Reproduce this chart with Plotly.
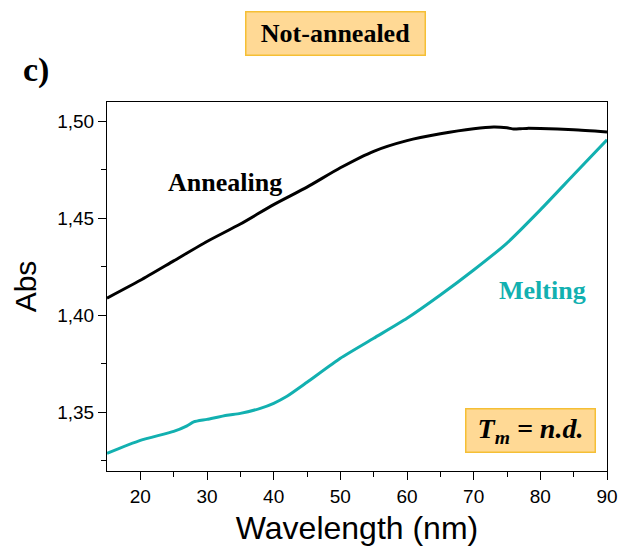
import plotly.graph_objects as go

# Data
wl_anneal = [15, 20, 25, 30, 35, 40, 45, 50, 55, 60, 65, 70, 73, 75, 76, 77, 78, 80, 85, 90]
abs_anneal = [1.4088, 1.418, 1.428, 1.438, 1.447, 1.457, 1.466, 1.476, 1.4845, 1.4900, 1.4935, 1.4961, 1.4970, 1.4966, 1.4960, 1.4961, 1.4963, 1.4962, 1.4956, 1.4945]

wl_melt = [15, 20, 25, 27, 28, 30, 33, 35, 38, 40, 42, 45, 50, 55, 60, 65, 70, 75, 80, 85, 90]
abs_melt = [1.3288, 1.3355, 1.3401, 1.3430, 1.3450, 1.3463, 1.3484, 1.3494, 1.352, 1.3546, 1.3582, 1.3654, 1.3778, 1.3881, 1.3984, 1.4104, 1.4233, 1.4372, 1.4543, 1.4724, 1.4904]

x_ticks = [20, 30, 40, 50, 60, 70, 80, 90]
y_ticks = [1.35, 1.40, 1.45, 1.50]
y_ticklabels = ["1,35", "1,40", "1,45", "1,50"]

BLACK = "#000000"
TEAL = "#12B0B0"
BOX_FILL = "#FFD995"
BOX_LINE = "#F5BF35"
SERIF = "Liberation Serif, Times New Roman, serif"
SANS = "Liberation Sans, Arial, sans-serif"

L, R, T, B = 107, 607, 102, 471
W = R - L
H = B - T


def px(x):
    return (x - L) / W


def py(y):
    return (B - y) / H


fig = go.Figure()
fig.add_trace(go.Scatter(x=wl_anneal, y=abs_anneal, mode="lines",
                         line=dict(color=BLACK, width=3, shape="spline", smoothing=0.6),
                         showlegend=False, hoverinfo="skip"))
fig.add_trace(go.Scatter(x=wl_melt, y=abs_melt, mode="lines",
                         line=dict(color=TEAL, width=3, shape="spline", smoothing=0.6),
                         showlegend=False, hoverinfo="skip"))

fig.update_layout(
    width=619, height=546,
    margin=dict(l=L, r=619 - R, t=T, b=546 - B),
    paper_bgcolor="white", plot_bgcolor="white",
    font=dict(family=SANS, color="black"),
    xaxis=dict(
        range=[15, 90], tickmode="array", tickvals=x_ticks, automargin=False,
        ticks="outside", ticklen=8, tickwidth=1, tickcolor="black",
        showline=True, linecolor="black", linewidth=1, mirror=True,
        showgrid=False, zeroline=False,
        tickfont=dict(family=SANS, size=19),
        minor=dict(tickvals=[25, 35, 45, 55, 65, 75, 85], ticks="outside", ticklen=5, tickcolor="black"),
        title=dict(text="Wavelength (nm)", font=dict(family=SANS, size=32), standoff=11),
    ),
    yaxis=dict(
        range=[1.3197, 1.5099], tickmode="array", tickvals=y_ticks, ticktext=y_ticklabels,
        automargin=False,
        ticks="outside", ticklen=8, tickwidth=1, tickcolor="black",
        showline=True, linecolor="black", linewidth=1, mirror=True,
        showgrid=False, zeroline=False,
        tickfont=dict(family=SANS, size=19),
        minor=dict(tickvals=[1.325, 1.375, 1.425, 1.475], ticks="outside", ticklen=5, tickcolor="black"),
        title=dict(text="Abs", font=dict(family=SANS, size=30), standoff=11),
    ),
    annotations=[
        dict(text="<b>Not-annealed</b>", xref="paper", yref="paper",
             x=px(335), y=py(33), xanchor="center", yanchor="middle", showarrow=False,
             font=dict(family=SERIF, size=26, color="black"),
             bgcolor=BOX_FILL, bordercolor=BOX_LINE, borderwidth=1.5, width=176, height=40),
        dict(text="<b>c)</b>", xref="paper", yref="paper",
             x=px(36), y=py(70), xanchor="center", yanchor="middle",
             showarrow=False, font=dict(family=SERIF, size=34, color="black")),
        dict(text="<b>Annealing</b>", xref="paper", yref="paper",
             x=px(225), y=py(182), xanchor="center", yanchor="middle",
             showarrow=False, font=dict(family=SERIF, size=26, color="black")),
        dict(text="<b>Melting</b>", xref="paper", yref="paper",
             x=px(542), y=py(290), xanchor="center", yanchor="middle",
             showarrow=False, font=dict(family=SERIF, size=26, color=TEAL)),
        dict(text="<b><i>T<sub>m</sub> = n.d.</i></b>", xref="paper", yref="paper",
             x=px(530), y=py(430), xanchor="center", yanchor="middle",
             showarrow=False, font=dict(family=SERIF, size=28, color="black"),
             bgcolor=BOX_FILL, bordercolor=BOX_LINE, borderwidth=1.5, width=126, height=40),
    ],
)

fig.write_html("out.html")
